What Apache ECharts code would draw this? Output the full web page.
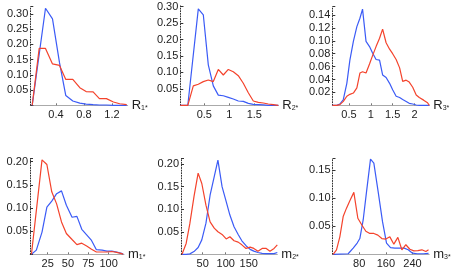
<!DOCTYPE html>
<html><head><meta charset="utf-8">
<script src="https://cdn.jsdelivr.net/npm/echarts@6/dist/echarts.min.js"></script>
<style>html,body{margin:0;padding:0;background:#fff}#c{width:453px;height:270px}</style>
</head><body><div id="c"></div>
<script>
// ---- Panel R1* ----
const r1X    = [0.06, 0.16, 0.25, 0.35, 0.45, 0.54, 0.64, 0.74, 0.83, 0.93, 1.02, 1.12, 1.22, 1.31, 1.41];
const r1Red  = [0, 0.187, 0.187, 0.136, 0.131, 0.085, 0.085, 0.058, 0.045, 0.044, 0.022, 0.022, 0.011, 0.005, 0.002];
const r1Blue = [0, null, 0.319, 0.284, 0.14, 0.032, 0.014, 0.007, 0.004, 0.002, 0.001, 0.001, 0, 0, 0];
// ---- Panel R2* ----
const r2X    = [0.02, 0.17, 0.28, 0.38, 0.48, 0.58, 0.68, 0.78, 0.88, 0.98, 1.08, 1.18, 1.28, 1.38, 1.48, 1.58, 1.68, 1.78, 1.88, 1.98];
const r2Red  = [0, 0, 0.059, 0.064, 0.072, 0.077, 0.072, 0.109, 0.092, 0.109, 0.102, 0.09, 0.067, 0.038, 0.013, 0.009, 0.007, 0.004, 0.002, 0];
const r2Blue = [0, 0, null, 0.293, 0.275, 0.123, 0.059, 0.031, 0.029, 0.024, 0.019, 0.013, 0.012, 0.006, 0.003, 0.002, 0.001, 0, 0, 0];
// ---- Panel R3* ----
const r3X    = [0.12, 0.22, 0.29, 0.37, 0.45, 0.52, 0.6, 0.68, 0.75, 0.81, 0.89, 0.97, 1.04, 1.12, 1.2, 1.27, 1.35, 1.43, 1.5, 1.58, 1.66, 1.73, 1.81, 1.88, 1.96, 2.04, 2.11, 2.21, 2.3, 2.34];
const r3Red  = [0, 0, 0.001, 0.006, 0.014, 0.017, 0.019, 0.027, 0.05, 0.052, 0.05, 0.064, 0.077, 0.091, 0.104, 0.118, 0.097, 0.087, 0.08, 0.071, 0.058, 0.037, 0.039, 0.036, 0.028, 0.016, 0.012, 0.008, 0.004, 0];
const r3Blue = [0, 0, 0.002, 0.009, 0.034, 0.07, 0.099, 0.122, 0.135, 0.149, 0.099, 0.091, 0.081, 0.071, 0.07, 0.047, 0.043, 0.034, 0.024, 0.014, 0.012, 0.009, 0.006, 0.003, 0.002, 0.0005, 0, 0, 0, 0];
// ---- Panel m1* ----
const m1X    = [5, 11, 18, 24, 30, 36, 42, 48, 55, 61, 67, 73, 79, 85, 92, 98, 104, 110, 116, 118];
const m1Red  = [0, null, 0.204, 0.194, 0.135, 0.109, 0.07, 0.045, 0.032, 0.021, 0.024, 0.018, 0.011, 0.005, 0.005, 0.005, 0.006, 0.004, 0.0015, 0];
const m1Blue = [0, 0.009, 0.048, 0.102, 0.115, 0.131, 0.137, 0.106, 0.08, 0.082, 0.054, 0.042, 0.03, 0.01, 0.009, 0.007, 0.007, 0.005, 0.002, 0];
// ---- Panel m2* ----
const m2X    = [5, 14, 22, 31, 40, 48, 57, 66, 75, 83, 92, 101, 109, 118, 127, 135, 144, 153, 161, 170, 179, 188, 196, 205, 212];
const m2Red  = [0, 0.024, 0.068, 0.128, 0.18, 0.157, 0.109, 0.072, 0.058, 0.05, 0.044, 0.034, 0.039, 0.03, 0.027, 0.021, 0.013, 0.016, 0.013, 0.007, 0.013, 0.013, 0.007, 0.013, 0.021];
const m2Blue = [0, 0, 0.001, 0.006, 0.015, 0.032, 0.069, 0.131, 0.172, 0.209, 0.15, 0.117, 0.087, 0.061, 0.044, 0.03, 0.019, 0.011, 0.007, 0.004, 0.002, 0.0015, 0.0015, 0.0015, 0.004];
// ---- Panel m3* ----
const m3RedX  = [2, 12, 22, 32, 42, 52, 64, 76, 88, 100, 112, 124, 136, 148, 160, 172, 184, 196, 208, 220, 232, 244, 256, 268, 280, 288];
const m3Red   = [0, 0.008, 0.031, 0.067, 0.082, 0.095, 0.11, 0.064, 0.052, 0.041, 0.037, 0.037, 0.034, 0.028, 0.027, 0.031, 0.018, 0.03, 0.008, 0.017, 0.009, 0.006, 0.0065, 0.008, 0.005, 0.008];
const m3BlueX = [2, 47, 62, 74, 82, 92, 102, 114, 124, 137, 150, 162, 174, 187, 202, 215, 227, 240, 254, 272, 288];
const m3Blue  = [0, 0.001, 0.011, 0.02, 0.028, 0.061, 0.111, 0.169, 0.162, 0.111, 0.058, 0.02, 0.012, 0.011, 0.011, 0.011, 0.008, 0.002, 0.001, 0.001, 0.0015];
// ---- axis labels ----
const names = [['R', '1*'], ['R', '2*'], ['R', '3*'], ['m', '1*'], ['m', '2*'], ['m', '3*']];
const xTicks = [[0.4, 0.8, 1.2], [0.5, 1, 1.5], [0.5, 1, 1.5, 2], [25, 50, 75, 100], [50, 100, 150], [80, 160, 240]];
const yStep = [0.05, 0.05, 0.02, 0.05, 0.05, 0.05];

const panels = [
  {xs: [r1X, r1X], reds: r1Red, blues: r1Blue, left: 30.3, top: 6.7, width: 97.4, height: 98.6, xmin: 0.033, xmax: 1.424, ymax: 0.324},
  {xs: [r2X, r2X], reds: r2Red, blues: r2Blue, left: 180.3, top: 5.9, width: 98, height: 99.4, xmin: 0.02, xmax: 1.98, ymax: 0.302},
  {xs: [r3X, r3X], reds: r3Red, blues: r3Blue, left: 332.3, top: 6.6, width: 97, height: 98.7, xmin: 0.117, xmax: 2.34, ymax: 0.153},
  {xs: [m1X, m1X], reds: m1Red, blues: m1Blue, left: 30, top: 158.5, width: 94, height: 95.8, xmin: 3.2, xmax: 119, ymax: 0.207},
  {xs: [m2X, m2X], reds: m2Red, blues: m2Blue, left: 181, top: 158.7, width: 96.3, height: 95.6, xmin: 2.8, xmax: 212, ymax: 0.212},
  {xs: [m3RedX, m3BlueX], reds: m3Red, blues: m3Blue, left: 332.5, top: 158.6, width: 96.7, height: 95.7, xmin: 0, xmax: 290, ymax: 0.170}
];

const FONT = 'Liberation Sans, Arial, sans-serif';
const RED = '#f4432c', BLUE = '#3b5bf6';
const grid = [], xAxis = [], yAxis = [], series = [];
panels.forEach((p, i) => {
  grid.push({left: p.left, top: p.top, width: p.width, height: p.height, containLabel: false});
  xAxis.push({
    type: 'value', gridIndex: i, min: p.xmin, max: p.xmax,
    name: '{a|' + names[i][0] + '}{b|' + names[i][1] + '}',
    nameLocation: 'end', nameGap: 4,
    nameTextStyle: {rich: {
      a: {fontSize: 13, fontFamily: FONT, color: '#222'},
      b: {fontSize: 7, fontFamily: FONT, color: '#222', verticalAlign: 'bottom', padding: [5, 0, 0, 0]}
    }},
    splitLine: {show: false},
    axisLine: {show: true, onZero: false, lineStyle: {color: '#aaa', width: 1}},
    axisTick: {show: true, inside: true, length: 2, customValues: xTicks[i], lineStyle: {color: '#777'}},
    axisLabel: {customValues: xTicks[i], margin: 4, fontSize: 11, fontFamily: FONT, color: '#222',
      formatter: v => String(v)}
  });
  const st = yStep[i];
  yAxis.push({
    type: 'value', gridIndex: i, min: 0, max: p.ymax, interval: st,
    splitLine: {show: false},
    axisLine: {show: true, onZero: false, lineStyle: {color: '#333', width: 1, type: [1, 1.6]}},
    axisTick: {show: true, inside: true, length: 3, lineStyle: {color: '#333'}},
    axisLabel: {margin: 2, fontSize: 11, fontFamily: FONT, color: '#222',
      formatter: v => {
        const k = v / st;
        if (v <= 0 || Math.abs(k - Math.round(k)) > 1e-6) return '';
        return v.toFixed(2);
      }}
  });
  series.push({
    type: 'line', xAxisIndex: i, yAxisIndex: i, showSymbol: false, connectNulls: true,
    lineStyle: {color: BLUE, width: 1.2}, itemStyle: {color: BLUE}, animation: false,
    data: p.xs[1].map((x, j) => [x, p.blues[j]])
  });
  series.push({
    type: 'line', xAxisIndex: i, yAxisIndex: i, showSymbol: false, connectNulls: true,
    lineStyle: {color: RED, width: 1.2}, itemStyle: {color: RED}, animation: false,
    data: p.xs[0].map((x, j) => [x, p.reds[j]])
  });
});

const chart = echarts.init(document.getElementById('c'), null, {renderer: 'canvas'});
chart.setOption({animation: false, backgroundColor: '#fff', grid, xAxis, yAxis, series});
</script>
</body></html>
